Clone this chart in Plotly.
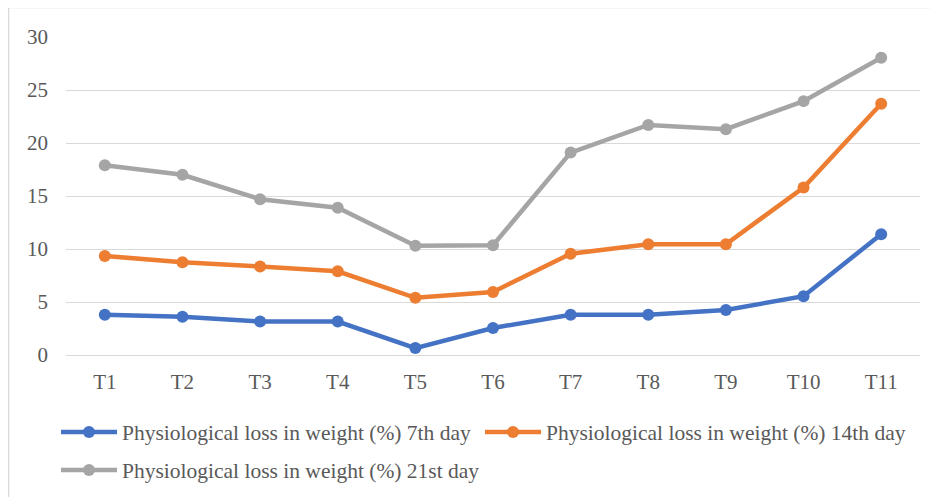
import plotly.graph_objects as go

categories = ["T1", "T2", "T3", "T4", "T5", "T6", "T7", "T8", "T9", "T10", "T11"]
day7 = [3.8, 3.6, 3.15, 3.15, 0.65, 2.55, 3.8, 3.8, 4.25, 5.55, 11.4]
day14 = [9.35, 8.75, 8.35, 7.9, 5.4, 5.95, 9.55, 10.45, 10.45, 15.8, 23.7]
day21 = [17.9, 17.0, 14.7, 13.9, 10.3, 10.35, 19.1, 21.7, 21.3, 23.95, 28.05]
series_names = [
    "Physiological loss in weight (%) 7th day",
    "Physiological loss in weight (%) 14th day",
    "Physiological loss in weight (%) 21st day",
]
colors = ["#4472C4", "#ED7D31", "#A5A5A5"]
y_ticks = [0, 5, 10, 15, 20, 25, 30]

W, H = 938, 497
ml, mr, mt, mb = 58, 26, 29, 150
pw, ph = W - ml - mr, H - mt - mb

def px_x(p):
    return (p - ml) / pw

def px_y(p):
    return 1 - (p - mt) / ph

legend_ids = ["legend", "legend2", "legend3"]
fig = go.Figure()
for name, vals, col, lg in zip(series_names, [day7, day14, day21], colors, legend_ids):
    fig.add_trace(go.Scatter(
        x=categories, y=vals, name=name, mode="lines+markers",
        line=dict(color=col, width=4.5),
        marker=dict(color=col, size=12),
        legend=lg,
    ))

leg_font = dict(family="Liberation Serif, Times New Roman, serif", size=21.5, color="#595959")
def leg(xp, yp):
    return dict(x=px_x(xp), xanchor="left", y=px_y(yp), yanchor="middle",
                orientation="h", font=leg_font, itemwidth=56,
                bgcolor="rgba(0,0,0,0)", borderwidth=0)

fig.update_layout(
    width=W, height=H,
    margin=dict(l=ml, r=mr, t=mt, b=mb, autoexpand=False),
    paper_bgcolor="white", plot_bgcolor="white",
    font=dict(family="Liberation Serif, Times New Roman, serif", size=21, color="#595959"),
    showlegend=True,
    legend=leg(48, 424),
    legend2=leg(472, 424),
    legend3=leg(48, 462),
    xaxis=dict(
        type="category", showgrid=False, zeroline=False, showline=False,
        ticks="", tickfont=dict(size=21, color="#595959"),
        range=[-0.5, 10.5], ticklabelstandoff=12,
    ),
    yaxis=dict(
        range=[0, 30], tickvals=y_ticks, showgrid=True, gridcolor="#d9d9d9",
        gridwidth=1, zeroline=True, zerolinecolor="#d9d9d9", zerolinewidth=1,
        showline=False, ticks="", ticklabelstandoff=17,
        tickfont=dict(size=21, color="#595959"),
    ),
)

# outer chart border (top and left visible)
x_left = px_x(0.5)
y_top = px_y(-0.5)
fig.add_shape(type="line", xref="paper", yref="paper",
              x0=x_left, x1=px_x(W + 5), y0=y_top, y1=y_top,
              line=dict(color="#d9d9d9", width=1.5))
fig.add_shape(type="line", xref="paper", yref="paper",
              x0=x_left, x1=x_left, y0=y_top, y1=px_y(H + 5),
              line=dict(color="#d9d9d9", width=1.5))

fig.write_html("out.html")
